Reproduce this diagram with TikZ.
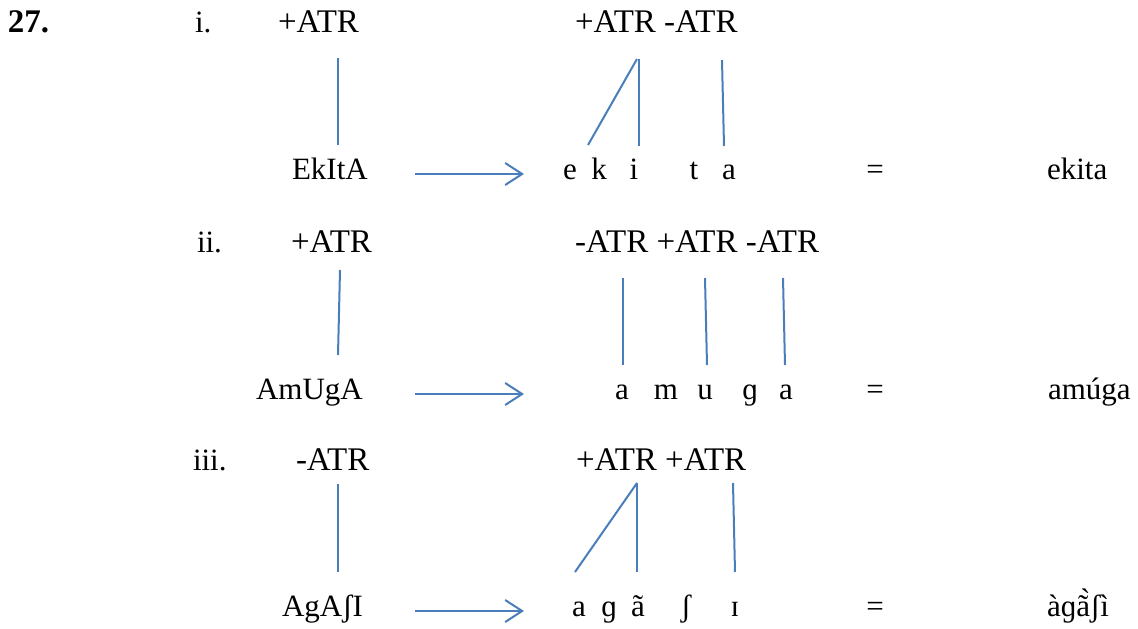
\documentclass[tikz,border=0pt]{standalone}
\usepackage{fontspec}
\setmainfont{Liberation Serif}
\usetikzlibrary{arrows.meta}
\definecolor{linkblue}{HTML}{4A7EBB}
\tikzset{
  txt/.style={inner sep=0pt, outer sep=0pt, anchor=base west, font=\fontsize{31}{36}\selectfont},
  feat/.style={inner sep=0pt, outer sep=0pt, anchor=base west, font=\fontsize{33}{38}\selectfont},
  seg/.style={inner sep=0pt, outer sep=0pt, anchor=base, font=\fontsize{31}{36}\selectfont},
  assoc/.style={draw=linkblue, line width=2pt},
  derive/.style={draw=linkblue, line width=2pt, -{Straight Barb[length=17pt,width=22pt,line width=2pt]}}
}
\begin{document}
\begin{tikzpicture}[x=1pt,y=-1pt]
\useasboundingbox (0,0) rectangle (1138,629);
% ---------- heading
\node[feat] (num) at (8,32) {\textbf{27.}};
% ---------- row i
\node[txt] (ri) at (195,32) {i.};
\node[feat] (iL) at (278,32) {+ATR};
\node[feat] (iR) at (575,32) {+ATR -ATR};
\node[txt] (iU) at (292,179) {EkItA};
\node[seg] (i1) at (570,179) {e};
\node[seg] (i2) at (599,179) {k};
\node[seg] (i3) at (634,179) {i};
\node[seg] (i4) at (694,179) {t};
\node[seg] (i5) at (729,179) {a};
\node[seg] (ieq) at (875,179) {=};
\node[txt] (iS) at (1047,179) {ekita};
\coordinate (ia1) at (338,58);  \coordinate (ib1) at (338,145);
\coordinate (ia2) at (637,59);  \coordinate (ib2) at (588,145);
\coordinate (ia3) at (639,59);  \coordinate (ib3) at (639,146);
\coordinate (ia4) at (722,60);  \coordinate (ib4) at (724,146);
\coordinate (iar) at (415,174); \coordinate (iat) at (524,174);
\draw[assoc] (ia1) -- (ib1);
\draw[assoc] (ia2) -- (ib2);
\draw[assoc] (ia3) -- (ib3);
\draw[assoc] (ia4) -- (ib4);
\draw[derive] (iar) -- (iat);
% ---------- row ii
\node[txt] (rii) at (197,252) {ii.};
\node[feat] (iiL) at (291,252) {+ATR};
\node[feat] (iiR) at (575,252) {-ATR +ATR -ATR};
\node[txt] (iiU) at (256,399) {AmUgA};
\node[seg] (ii1) at (622,399) {a};
\node[seg] (ii2) at (666,399) {m};
\node[seg] (ii3) at (705,399) {u};
\node[seg] (ii4) at (750,399) {ɡ};
\node[seg] (ii5) at (786,399) {a};
\node[seg] (iieq) at (875,399) {=};
\node[txt] (iiS) at (1048,399) {amúga};
\coordinate (iia1) at (340,270); \coordinate (iib1) at (338,355);
\coordinate (iia2) at (623,278); \coordinate (iib2) at (623,365);
\coordinate (iia3) at (705,278); \coordinate (iib3) at (707,365);
\coordinate (iia4) at (783,278); \coordinate (iib4) at (785,365);
\coordinate (iiar) at (415,394); \coordinate (iiat) at (524,394);
\draw[assoc] (iia1) -- (iib1);
\draw[assoc] (iia2) -- (iib2);
\draw[assoc] (iia3) -- (iib3);
\draw[assoc] (iia4) -- (iib4);
\draw[derive] (iiar) -- (iiat);
% ---------- row iii
\node[txt] (riii) at (193,470) {iii.};
\node[feat] (iiiL) at (296,470) {-ATR};
\node[feat] (iiiR) at (576,470) {+ATR +ATR};
\node[txt] (iiiU) at (282,616) {AgAʃI};
\node[seg] (iii1) at (579,616) {a};
\node[seg] (iii2) at (609,616) {ɡ};
\node[seg] (iii3) at (638,616) {ã};
\node[seg] (iii4) at (686,616) {ʃ};
\node[seg] (iii5) at (735,616) {ɪ};
\node[seg] (iiieq) at (875,616) {=};
\node[txt] (iiiS) at (1047,616) {àɡã̀ʃì};
\coordinate (iiia1) at (338,484); \coordinate (iiib1) at (338,572);
\coordinate (iiia2) at (637,483); \coordinate (iiib2) at (575,572);
\coordinate (iiia3) at (637,483); \coordinate (iiib3) at (637,572);
\coordinate (iiia4) at (733,483); \coordinate (iiib4) at (735,572);
\coordinate (iiiar) at (415,611); \coordinate (iiiat) at (524,611);
\draw[assoc] (iiia1) -- (iiib1);
\draw[assoc] (iiia2) -- (iiib2);
\draw[assoc] (iiia3) -- (iiib3);
\draw[assoc] (iiia4) -- (iiib4);
\draw[derive] (iiiar) -- (iiiat);
\end{tikzpicture}
\end{document}
